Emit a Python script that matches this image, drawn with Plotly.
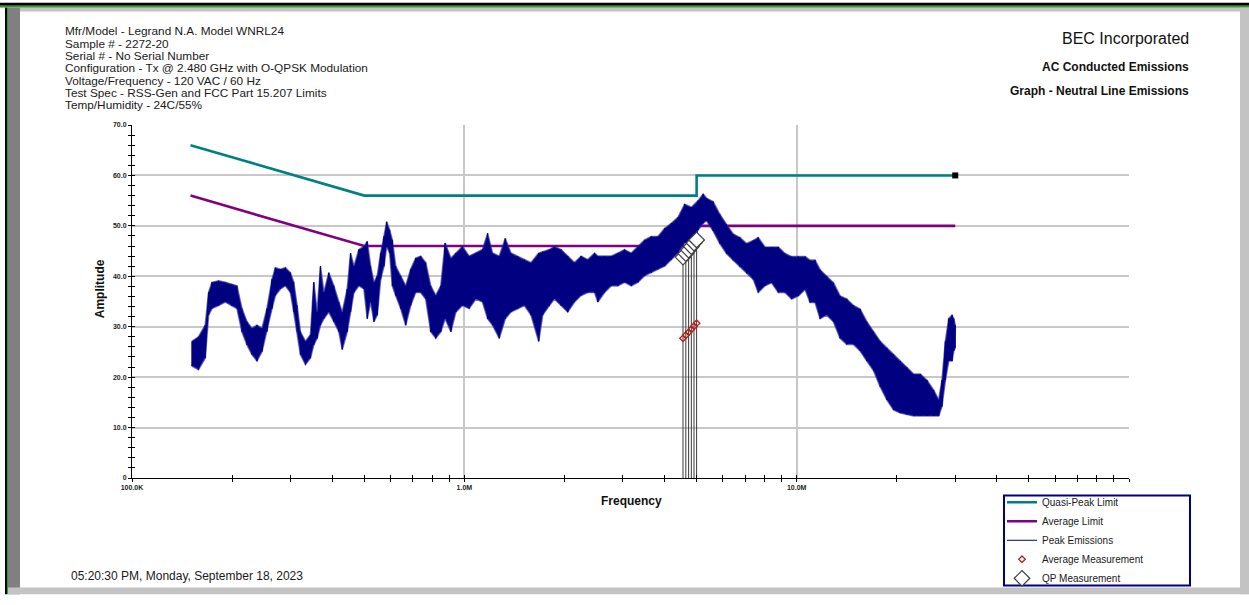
import plotly.graph_objects as go

# ---------------- data ----------------
peak_freq_mhz = [
    0.1514, 0.1585, 0.1661, 0.1700, 0.1740, 0.1822, 0.1908, 0.1998, 0.2069, 0.2142,
    0.2218, 0.2296, 0.2377, 0.2462, 0.2548, 0.2638, 0.2700, 0.2796, 0.2894, 0.2997,
    0.3067, 0.3139, 0.3212, 0.3326, 0.3444, 0.3524, 0.3607, 0.3691, 0.3778, 0.3911,
    0.4049, 0.4192, 0.4291, 0.4443, 0.4547, 0.4654, 0.4817, 0.4987, 0.5104, 0.5224,
    0.5346, 0.5471, 0.5600, 0.5731, 0.5838, 0.5961, 0.6072, 0.6215, 0.6434, 0.6661,
    0.6896, 0.7139, 0.7391, 0.7652, 0.7923, 0.8204, 0.8495, 0.8755,
    0.911, 0.943, 0.987, 1.034, 1.083, 1.134, 1.175, 1.216, 1.274, 1.328,
    1.381, 1.447, 1.516, 1.587, 1.674, 1.721, 1.803, 1.866, 1.955, 2.047,
    2.145, 2.246, 2.352, 2.465, 2.522, 2.641, 2.767, 2.897, 3.034, 3.179,
    3.330, 3.487, 3.652, 3.825, 4.006, 4.196, 4.395, 4.603, 4.823, 5.051, 5.230,
    5.353, 5.606, 5.871, 6.149, 6.440, 6.745, 7.067, 7.401, 7.662, 8.027,
    8.406, 8.806, 9.222, 9.658, 10.12, 10.60, 10.97, 11.36, 11.76, 12.31,
    12.90, 13.51, 14.15, 14.82, 15.52, 16.26, 17.03, 17.84, 18.68, 19.57,
    20.50, 21.47, 22.49, 23.55, 24.67, 25.84, 26.75, 27.37, 28.02, 28.68,
    29.35, 29.70, 30.00,
]
peak_hi_db = [
    27.1, 28.0, 30.3, 36.8, 38.8, 39.1, 38.8, 38.4, 38.1, 33.6,
    31.0, 29.7, 30.3, 29.7, 33.6, 39.4, 41.7, 41.4, 41.7, 40.7,
    38.8, 34.2, 29.0, 27.1, 28.4, 38.8, 32.9, 42.0, 36.8, 40.7,
    38.1, 34.9, 32.9, 37.5, 44.6, 42.0, 45.3, 45.9, 46.9, 42.0,
    38.8, 40.1, 44.6, 47.9, 50.8, 49.2, 47.2, 42.0, 40.1, 38.1,
    41.4, 43.6, 44.0, 42.7, 38.1, 36.2, 38.1, 46.6,
    43.6, 44.6, 45.9, 44.0, 44.6, 45.3, 48.5, 44.6, 44.0, 47.5,
    44.6, 44.0, 43.3, 42.7, 44.6, 44.9, 45.3, 45.9, 45.3, 44.0,
    42.7, 44.0, 43.3, 44.6, 44.0, 44.0, 44.0, 44.6, 45.3, 44.6,
    45.9, 47.2, 47.9, 47.9, 49.5, 50.5, 51.7, 54.3, 53.7, 55.0, 56.3,
    55.5, 54.8, 52.3, 50.3, 48.4, 47.7, 46.5, 47.1, 47.7, 45.8,
    45.8, 45.8, 44.5, 43.9, 43.9, 43.9, 43.2, 43.2, 41.3, 40.0,
    38.7, 36.1, 35.5, 34.2, 33.5, 31.0, 29.0, 27.1, 25.8, 24.5,
    23.2, 21.9, 20.6, 20.6, 19.4, 17.4, 15.5, 19.4, 27.1, 31.6,
    32.3, 31.6, 30.3,
]
peak_lo_db = [
    22.2, 21.5, 23.8, 32.3, 33.6, 34.2, 34.9, 34.2, 33.6, 29.0,
    26.4, 24.5, 23.2, 25.1, 29.0, 33.6, 36.2, 37.5, 38.1, 36.8,
    32.9, 29.0, 24.5, 22.5, 23.8, 26.4, 27.7, 30.3, 31.6, 32.9,
    31.0, 29.0, 25.5, 29.0, 32.9, 36.8, 38.1, 37.5, 31.6, 34.9,
    31.0, 32.3, 39.4, 42.0, 45.9, 44.6, 38.1, 36.2, 33.6, 30.3,
    34.2, 36.8, 36.8, 35.5, 29.0, 27.7, 29.0, 31.6,
    29.0, 32.9, 34.2, 33.6, 35.5, 34.9, 31.6, 30.3, 27.7, 31.6,
    32.9, 33.6, 34.2, 32.3, 27.1, 32.3, 34.2, 35.5, 34.2, 32.9,
    34.9, 36.2, 36.8, 36.8, 34.9, 36.8, 38.1, 38.1, 38.8, 38.1,
    38.8, 40.1, 40.7, 41.4, 42.0, 43.3, 44.6, 46.6, 46.6, 49.2, 50.5,
    51.0, 49.0, 46.5, 44.5, 43.2, 41.9, 40.6, 39.4, 36.8, 38.1,
    38.7, 36.8, 36.8, 35.5, 36.1, 37.4, 34.8, 34.8, 31.6, 32.3,
    31.0, 27.7, 26.5, 26.5, 25.2, 23.2, 21.3, 18.1, 15.5, 13.5,
    12.9, 12.6, 12.3, 12.3, 12.3, 12.3, 12.3, 14.2, 19.4, 23.2,
    23.2, 25.2, 25.8,
]

limit_freq_mhz = [0.15, 0.5, 5.0, 5.0, 30.0]
qp_limit_db = [66.0, 56.0, 56.0, 60.0, 60.0]
avg_limit_db = [56.0, 46.0, 46.0, 50.0, 50.0]

meas_freq_mhz = [4.55, 4.64, 4.73, 4.82, 4.91, 5.00]
qp_meas_db = [43.8, 44.5, 45.2, 45.9, 46.6, 47.2]
avg_meas_db = [27.7, 28.3, 28.9, 29.5, 30.1, 30.7]

x_major_ticks = [0.1, 1.0, 10.0, 100.0]
x_major_labels = ["100.0K", "1.0M", "10.0M", ""]
x_minor_ticks = [0.2, 0.3, 0.4, 0.5, 0.6, 0.7, 0.8, 0.9,
                 2, 3, 4, 5, 6, 7, 8, 9,
                 20, 30, 40, 50, 60, 70, 80, 90]
y_major_ticks = [0, 10, 20, 30, 40, 50, 60, 70]
y_major_labels = ["0", "10.0", "20.0", "30.0", "40.0", "50.0", "60.0", "70.0"]
y_minor_ticks = [v for v in range(0, 71, 2)]

header_lines = [
    "Mfr/Model - Legrand N.A. Model WNRL24",
    "Sample # - 2272-20",
    "Serial # - No Serial Number",
    "Configuration - Tx @ 2.480 GHz with O-QPSK Modulation",
    "Voltage/Frequency - 120 VAC / 60 Hz",
    "Test Spec - RSS-Gen and FCC Part 15.207 Limits",
    "Temp/Humidity - 24C/55%",
]
timestamp = "05:20:30 PM, Monday, September 18, 2023"

# ---------------- layout geometry ----------------
W, H = 1249, 605
L, R, T, B = 132, 1129, 125, 486
PW, PH = R - L, B - T


def px(xp):
    return (xp - L) / PW


def py(yp):
    return (B - yp) / PH


FONT = "Liberation Sans, Arial, sans-serif"
NAVY = "#000080"
TEAL = "#008080"
PURPLE = "#800080"

fig = go.Figure()

fig.add_trace(go.Scatter(
    x=limit_freq_mhz, y=qp_limit_db, mode="lines", name="Quasi-Peak Limit",
    line=dict(color=TEAL, width=2.6), legendrank=1, hoverinfo="skip"))
fig.add_trace(go.Scatter(
    x=limit_freq_mhz, y=avg_limit_db, mode="lines", name="Average Limit",
    line=dict(color=PURPLE, width=2.6), legendrank=2, hoverinfo="skip"))

# dense peak band (envelope of the noisy sweep)
band_x = peak_freq_mhz + peak_freq_mhz[::-1]
band_y = peak_hi_db + peak_lo_db[::-1]
fig.add_trace(go.Scatter(
    x=band_x, y=band_y, mode="lines", fill="toself",
    fillcolor=NAVY, line=dict(width=1.6, color="rgba(40,40,160,0.65)"),
    showlegend=False, hoverinfo="skip"))

zig_x, zig_y = [], []
for f, h, lo in zip(peak_freq_mhz, peak_hi_db, peak_lo_db):
    zig_x += [f, f]
    zig_y += [h, lo]
fig.add_trace(go.Scatter(
    x=zig_x, y=zig_y, mode="lines", name="Peak Emissions",
    line=dict(color=NAVY, width=1), legendrank=3, hoverinfo="skip"))

# measurement drop lines
drop_x, drop_y = [], []
for f, q in zip(meas_freq_mhz, qp_meas_db):
    drop_x += [f, f, None]
    drop_y += [0, q, None]
fig.add_trace(go.Scatter(
    x=drop_x, y=drop_y, mode="lines", line=dict(color="#3a3a3a", width=1),
    showlegend=False, hoverinfo="skip"))

fig.add_trace(go.Scatter(
    x=meas_freq_mhz, y=avg_meas_db, mode="markers", name="Average Measurement",
    marker=dict(symbol="diamond-open", size=5, color="#b22222",
                line=dict(width=1.3, color="#b22222")),
    legendrank=4))
fig.add_trace(go.Scatter(
    x=meas_freq_mhz, y=qp_meas_db, mode="markers", name="QP Measurement",
    marker=dict(symbol="diamond", size=12, color="white",
                line=dict(width=1.2, color="#404040")),
    legendrank=5))

# end marker on QP limit
fig.add_trace(go.Scatter(
    x=limit_freq_mhz[-1:], y=qp_limit_db[-1:], mode="markers",
    marker=dict(symbol="square", size=6, color="black"),
    showlegend=False, hoverinfo="skip"))

# invisible trace to carry the overlay axes (inner tick halves)
fig.add_trace(go.Scatter(
    x=limit_freq_mhz, y=qp_limit_db, xaxis="x2", yaxis="y2", mode="lines",
    line=dict(width=0), opacity=0, showlegend=False, hoverinfo="skip"))

tickfont = dict(family=FONT, size=7, color="#222222", weight="bold")

fig.update_layout(
    width=W, height=H, autosize=False,
    margin=dict(l=L, r=W - R, t=T, b=H - B, pad=0),
    paper_bgcolor="white", plot_bgcolor="white",
    font=dict(family=FONT, color="#1a1a1a"),
    xaxis=dict(
        type="log", range=[-1, 2], showline=True, linecolor="black", linewidth=1,
        tickmode="array", tickvals=x_major_ticks, ticktext=x_major_labels,
        ticks="outside", ticklen=3, tickwidth=1, tickcolor="black",
        tickfont=tickfont, showgrid=True, gridcolor="#c8c8c8", gridwidth=1.5,
        zeroline=False,
        minor=dict(tickmode="array", tickvals=x_minor_ticks, ticks="outside",
                   ticklen=3, tickwidth=1, tickcolor="black", showgrid=False),
    ),
    yaxis=dict(
        range=[0, 70], showline=True, linecolor="black", linewidth=1,
        tickmode="array", tickvals=y_major_ticks, ticktext=y_major_labels,
        ticks="outside", ticklen=3, tickwidth=1, tickcolor="black",
        tickfont=tickfont, showgrid=True, gridcolor="#c8c8c8", gridwidth=1.5,
        zeroline=False,
        minor=dict(tickmode="array", tickvals=y_minor_ticks, ticks="outside",
                   ticklen=3, tickwidth=1, tickcolor="black", showgrid=False),
    ),
    xaxis2=dict(
        type="log", range=[-1, 2], overlaying="x", anchor="y", side="bottom",
        tickmode="array", tickvals=x_major_ticks + x_minor_ticks,
        ticks="inside", ticklen=3, tickwidth=1, tickcolor="black",
        showticklabels=False, showgrid=False, showline=False, zeroline=False,
    ),
    yaxis2=dict(
        range=[0, 70], overlaying="y", anchor="x", side="left",
        tickmode="array", tickvals=y_minor_ticks,
        ticks="inside", ticklen=3, tickwidth=1, tickcolor="black",
        showticklabels=False, showgrid=False, showline=False, zeroline=False,
    ),
    showlegend=True,
    legend=dict(
        x=px(1002), y=py(496), xanchor="left", yanchor="top",
        bgcolor="rgba(0,0,0,0)", borderwidth=0, itemwidth=30,
        font=dict(family=FONT, size=10, color="#1a1a1a"),
        tracegroupgap=0,
    ),
    hovermode=False,
)

shapes = []


def rect(x0, y0, x1, y1, color, line=None, layer="above"):
    d = dict(type="rect", xref="paper", yref="paper",
             x0=px(x0), x1=px(x1), y0=py(y1), y1=py(y0),
             fillcolor=color, layer=layer,
             line=dict(width=0) if line is None else line)
    shapes.append(d)


# window frame
rect(0, 0, W, 3, "#000000")
rect(0, 3, W, 5, "#2f9e2f")
rect(8, 5, W, 9, "#c3c3c3")
rect(0, 5, 5, H, "#ffffff")
rect(5, 5, 7, H, "#000000")
rect(7, 5, 8, H, "#2f9e2f")
rect(8, 5, 20, H, "#808080")
rect(1240, 5, W, H, "#c3c3c3")
rect(8, 598, W, H, "#c3c3c3")
# legend box
rect(1004, 504, 1190, 596, "rgba(255,255,255,0)",
     line=dict(color=NAVY, width=2), layer="below")
fig.update_layout(shapes=shapes)

ann = []
line_y = [29, 41.7, 54.3, 67, 79.7, 92.3, 105]
for txt, yy in zip(header_lines, line_y):
    ann.append(dict(text=txt, x=px(63), y=py(yy), xref="paper", yref="paper",
                    xanchor="left", yanchor="middle", showarrow=False,
                    font=dict(family=FONT, size=11.8, color="#1a1a1a")))
ann.append(dict(text="BEC Incorporated", x=px(1191), y=py(37), xref="paper",
                yref="paper", xanchor="right", yanchor="middle", showarrow=False,
                font=dict(family=FONT, size=16, color="#111111")))
ann.append(dict(text="AC Conducted Emissions", x=px(1191), y=py(66), xref="paper",
                yref="paper", xanchor="right", yanchor="middle", showarrow=False,
                font=dict(family=FONT, size=12, color="#111111", weight="bold")))
ann.append(dict(text="Graph - Neutral Line Emissions", x=px(1191), y=py(90),
                xref="paper", yref="paper", xanchor="right", yanchor="middle",
                showarrow=False,
                font=dict(family=FONT, size=12, color="#111111", weight="bold")))
ann.append(dict(text="Frequency", x=px(631), y=py(510), xref="paper", yref="paper",
                xanchor="center", yanchor="middle", showarrow=False,
                font=dict(family=FONT, size=12, color="#111111", weight="bold")))
ann.append(dict(text="Amplitude", x=px(100), y=py(293), xref="paper", yref="paper",
                xanchor="center", yanchor="middle", showarrow=False, textangle=-90,
                font=dict(family=FONT, size=12, color="#111111", weight="bold")))
ann.append(dict(text=timestamp, x=px(69), y=py(586), xref="paper", yref="paper",
                xanchor="left", yanchor="middle", showarrow=False,
                font=dict(family=FONT, size=12, color="#1a1a1a")))
fig.update_layout(annotations=ann)

fig.write_html("out.html")
